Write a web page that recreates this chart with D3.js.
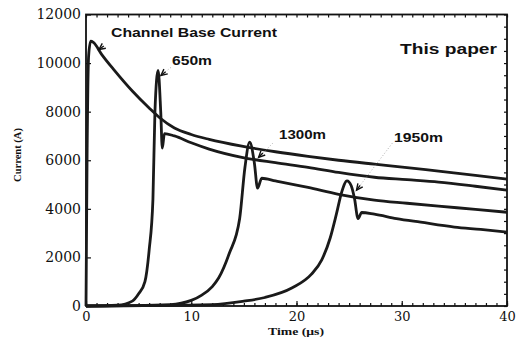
<!DOCTYPE html>
<html>
<head>
<meta charset="utf-8">
<script src="https://cdn.jsdelivr.net/npm/d3@7"></script>
<style>
  body { margin: 0; background: #fff; }
  svg { display: block; }
</style>
</head>
<body>
<script>
// time (us) / current (A)
const baseT = [0, 0.1, 0.25, 0.45, 0.7, 1.5, 2.7, 4.4, 6.0, 7.0, 8.4, 10, 11.7, 14.8, 18, 21.1, 24, 27.4, 30.5, 33.5, 37, 40];
const baseA = [0, 6000, 10300, 10900, 10850, 10350, 9700, 8850, 8150, 7750, 7330, 7060, 6860, 6580, 6350, 6160, 6000, 5840, 5700, 5550, 5380, 5220];

const m650T = [0, 3, 4.4, 5.0, 5.6, 6.0, 6.36, 6.55, 6.85, 7.1, 7.25, 7.45, 8.4, 10, 11.7, 14.8, 18, 21.1, 24, 27.4, 30.5, 33.5, 37, 40];
const m650A = [0, 30, 200, 500, 1000, 2300, 4400, 8000, 9700, 8000, 6500, 7100, 7000, 6720, 6460, 6120, 5900, 5710, 5500, 5300, 5200, 5100, 4930, 4770];

const m1300T = [0, 8, 10, 11, 12, 12.6, 13.6, 14.6, 15.1, 15.55, 16.0, 16.3, 16.7, 18, 21.1, 24, 27.4, 30.5, 33.5, 37, 40];
const m1300A = [0, 60, 230, 450, 800, 1150, 2150, 3600, 5700, 6750, 5880, 4850, 5260, 5150, 4880, 4600, 4360, 4230, 4110, 3980, 3860];

const m1950T = [0, 12, 15, 17, 19.6, 21.4, 22.4, 23.2, 23.8, 24.3, 24.8, 25.2, 25.5, 25.85, 26.2, 27.4, 29.5, 31.8, 35, 37.5, 40];
const m1950A = [0, 60, 200, 350, 750, 1300, 1900, 2800, 3800, 4700, 5150, 4950, 4450, 3600, 3850, 3780, 3600, 3450, 3250, 3150, 3040];

const seriesNames = ["Channel Base Current", "650m", "1300m", "1950m"];
const seriesT = [baseT, m650T, m1300T, m1950T];
const seriesA = [baseA, m650A, m1300A, m1950A];

// label text, where it sits, arrow tip + leader start in data units
const labelX = [111, 172, 279, 394];
const labelY = [37, 65, 139, 142];
const labelW = [166, 40, 47, 49];
const tipT = [1.23, 7.12, 16.4, 25.7];
const tipA = [10560, 9490, 6120, 4770];
const fromT = [2.0, 8.06, 17.74, 29.1];
const fromA = [10800, 9820, 6700, 6700];
const leader = [false, true, true, true];

const xTicks = [0, 10, 20, 30, 40];
const yTicks = [0, 2000, 4000, 6000, 8000, 10000, 12000];

const width = 519, height = 337;
const pLeft = 86, pRight = 507, pTop = 14.5, pBottom = 306;

const x = d3.scaleLinear().domain([0, 40]).range([pLeft, pRight]);
const y = d3.scaleLinear().domain([0, 12000]).range([pBottom, pTop]);

const svg = d3.select("body").append("svg")
    .attr("width", width)
    .attr("height", height);

// minor ticks first, no labels
svg.append("g")
    .attr("transform", "translate(0," + pBottom + ")")
    .call(d3.axisBottom(x).tickValues(d3.range(0, 41, 1)).tickSize(-3).tickFormat(""))
    .call(g => g.select(".domain").remove());
svg.append("g")
    .attr("transform", "translate(0," + pTop + ")")
    .call(d3.axisTop(x).tickValues(d3.range(0, 41, 1)).tickSize(-3).tickFormat(""))
    .call(g => g.select(".domain").remove());
svg.append("g")
    .attr("transform", "translate(" + pRight + ",0)")
    .call(d3.axisRight(y).tickValues(d3.range(0, 12001, 500)).tickSize(-3).tickFormat(""))
    .call(g => g.select(".domain").remove());

const xAxis = svg.append("g")
    .attr("transform", "translate(0," + pBottom + ")")
    .call(d3.axisBottom(x).tickValues(xTicks).tickSize(-5).tickPadding(6));
const yAxis = svg.append("g")
    .attr("transform", "translate(" + pLeft + ",0)")
    .call(d3.axisLeft(y).tickValues(yTicks).tickSize(-5).tickPadding(5).tickFormat(d3.format("d")));

[xAxis, yAxis].forEach(g => {
    g.select(".domain").remove();
    g.selectAll("text")
        .attr("font-family", "DejaVu Serif")
        .attr("font-size", 14)
        .attr("fill", "#111");
});
xAxis.selectAll("text").attr("font-size", 13);
svg.selectAll(".tick line").attr("stroke", "#111").attr("stroke-width", 1.2);

// frame
svg.append("rect")
    .attr("x", pLeft).attr("y", pTop)
    .attr("width", pRight - pLeft).attr("height", pBottom - pTop)
    .attr("fill", "none")
    .attr("stroke", "#111")
    .attr("stroke-width", 1.8);

// curves
const line = d3.line()
    .x(d => x(d[0]))
    .y(d => y(d[1]))
    .curve(d3.curveMonotoneX);

seriesT.forEach((ts, i) => {
    const pts = ts.map((t, j) => [t, seriesA[i][j]]);
    svg.append("path")
        .attr("d", line(pts))
        .attr("fill", "none")
        .attr("stroke", "#1a1a1a")
        .attr("stroke-width", 2.8)
        .attr("stroke-linejoin", "round");
});

// labels, dotted leaders, arrowheads
seriesNames.forEach((name, i) => {
    svg.append("text")
        .attr("x", labelX[i]).attr("y", labelY[i])
        .attr("font-family", "Liberation Sans, Arial, sans-serif")
        .attr("font-weight", "bold")
        .attr("font-size", 12)
        .attr("textLength", labelW[i])
        .attr("lengthAdjust", "spacingAndGlyphs")
        .attr("fill", "#111")
        .text(name);

    const tx = x(tipT[i]), ty = y(tipA[i]);
    const fx = x(fromT[i]), fy = y(fromA[i]);
    if (leader[i]) {
        svg.append("line")
            .attr("x1", fx).attr("y1", fy).attr("x2", tx).attr("y2", ty)
            .attr("stroke", "#999")
            .attr("stroke-width", 0.8)
            .attr("stroke-dasharray", "1,2");
    }
    const ang = Math.atan2(fy - ty, fx - tx);
    const len = 7, spread = 0.45;
    const head = [
        [tx + len * Math.cos(ang - spread), ty + len * Math.sin(ang - spread)],
        [tx, ty],
        [tx + len * Math.cos(ang + spread), ty + len * Math.sin(ang + spread)]
    ];
    svg.append("path")
        .attr("d", d3.line()(head))
        .attr("fill", "none")
        .attr("stroke", "#111")
        .attr("stroke-width", 1.4);
    svg.append("line")
        .attr("x1", tx).attr("y1", ty)
        .attr("x2", tx + 6 * Math.cos(ang)).attr("y2", ty + 6 * Math.sin(ang))
        .attr("stroke", "#111")
        .attr("stroke-width", 1.4);
});

svg.append("text")
    .attr("x", 400).attr("y", 54)
    .attr("font-family", "Liberation Sans, Arial, sans-serif")
    .attr("font-weight", "bold")
    .attr("font-size", 15)
    .attr("textLength", 97)
    .attr("lengthAdjust", "spacingAndGlyphs")
    .attr("fill", "#111")
    .text("This paper");

// axis titles
svg.append("text")
    .attr("transform", "translate(21,155) rotate(-90)")
    .attr("text-anchor", "middle")
    .attr("font-family", "Liberation Serif, Times New Roman, serif")
    .attr("font-weight", "bold")
    .attr("font-size", 10.5)
    .attr("fill", "#111")
    .text("Current (A)");

svg.append("text")
    .attr("x", 296).attr("y", 334.5)
    .attr("text-anchor", "middle")
    .attr("font-family", "Liberation Serif, Times New Roman, serif")
    .attr("font-weight", "bold")
    .attr("font-size", 10.5)
    .attr("textLength", 56)
    .attr("lengthAdjust", "spacingAndGlyphs")
    .attr("fill", "#111")
    .text("Time (μs)");
</script>
</body>
</html>
